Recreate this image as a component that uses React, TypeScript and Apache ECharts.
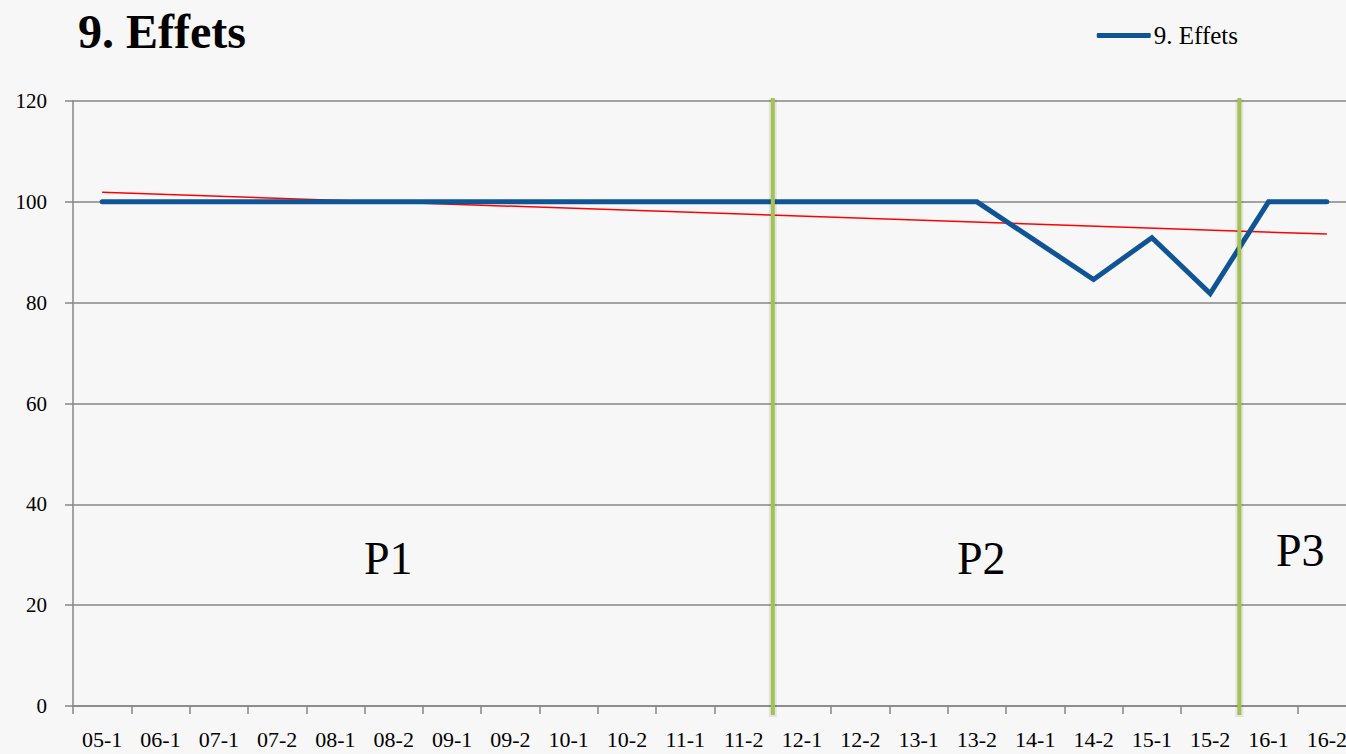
import React, { useEffect, useRef } from "react";
import * as echarts from "echarts";

const categories = ["05-1","06-1","07-1","07-2","08-1","08-2","09-1","09-2","10-1","10-2","11-1","11-2","12-1","12-2","13-1","13-2","14-1","14-2","15-1","15-2","16-1","16-2"];
const effets = [100,100,100,100,100,100,100,100,100,100,100,100,100,100,100,100,92.3,84.6,92.9,81.8,100,100];
const trendEnds = [101.9, 93.6];
const periodBounds = [11.5, 19.5];
const periodLabels = ["P1", "P2", "P3"];
const yTicks = { min: 0, max: 120, interval: 20 };

const FONT = "'Liberation Serif', 'DejaVu Serif', serif";

export default function App() {
  const ref = useRef<HTMLDivElement>(null);
  useEffect(() => {
    if (!ref.current) return;
    const chart = echarts.init(ref.current, null, { renderer: "svg" });
    const boundSeries: any[] = [];
    periodBounds.forEach((b, i) => {
      boundSeries.push({
        name: "boundShadow" + i,
        type: "line",
        xAxisIndex: 1,
        data: [
          [b, 120.4],
          [b, -2.2],
        ],
        symbol: "none",
        clip: false,
        silent: true,
        lineStyle: { color: "rgba(0,0,0,0.08)", width: 8 },
        z: 4,
      });
      boundSeries.push({
        name: "bound" + i,
        type: "line",
        xAxisIndex: 1,
        data: [
          [b, 120.6],
          [b, -1.8],
        ],
        symbol: "none",
        clip: false,
        silent: true,
        lineStyle: { color: "#a2c253", width: 4 },
        z: 5,
      });
    });
    chart.setOption({
      animation: false,
      backgroundColor: "#f7f7f7",
      title: {
        text: "9. Effets",
        left: 73,
        top: 2,
        textStyle: { fontFamily: FONT, fontSize: 48, fontWeight: "bold", color: "#000" },
      },
      legend: {
        right: 103,
        top: 18,
        itemWidth: 54,
        itemHeight: 5,
        itemGap: 0,
        data: [{ name: "9. Effets", icon: "roundRect", itemStyle: { color: "#0f5596" } }],
        textStyle: { fontFamily: FONT, fontSize: 25, color: "#000", padding: [0, 0, 0, -2] },
      },
      grid: { left: 73, width: 1283, top: 101, bottom: 48, containLabel: false, outerBoundsMode: "none" },
      xAxis: [
        {
          type: "category",
          data: categories,
          boundaryGap: true,
          axisLine: { lineStyle: { color: "#868686", width: 1.5 } },
          axisTick: { show: true, length: 8, lineStyle: { color: "#868686", width: 1.5 } },
          axisLabel: { fontFamily: FONT, fontSize: 22, color: "#000", margin: 22, interval: 0 },
          splitLine: { show: false },
        },
        {
          type: "value",
          show: false,
          min: -0.5,
          max: categories.length - 0.5,
          splitLine: { show: false },
        },
      ],
      yAxis: {
        type: "value",
        min: yTicks.min,
        max: yTicks.max,
        interval: yTicks.interval,
        axisLine: { show: true, onZero: false, lineStyle: { color: "#868686", width: 1.5 } },
        axisTick: { show: true, length: 8, lineStyle: { color: "#868686", width: 1.5 } },
        axisLabel: { fontFamily: FONT, fontSize: 21, color: "#000", margin: 26 },
        splitLine: { show: true, lineStyle: { color: "#868686", width: 1.5 } },
      },
      series: [
        {
          name: "9. Effets",
          type: "line",
          data: effets,
          symbol: "none",
          lineStyle: { color: "#0f5596", width: 5, cap: "round", join: "miter" },
          itemStyle: { color: "#0f5596" },
          z: 3,
          clip: false,
        },
        {
          name: "trend",
          type: "line",
          data: [
            [categories[0], trendEnds[0]],
            [categories[categories.length - 1], trendEnds[1]],
          ],
          symbol: "none",
          lineStyle: { color: "#ff0000", width: 1.5 },
          z: 2,
        },
        ...boundSeries,
      ],
      graphic: [
        { type: "text", left: 364, top: 535, style: { text: periodLabels[0], fontFamily: FONT, fontSize: 46, fill: "#000" } },
        { type: "text", left: 957, top: 535, style: { text: periodLabels[1], fontFamily: FONT, fontSize: 46, fill: "#000" } },
        { type: "text", left: 1276, top: 527, style: { text: periodLabels[2], fontFamily: FONT, fontSize: 46, fill: "#000" } },
      ],
    });
    return () => chart.dispose();
  }, []);
  return (
    <div
      ref={ref}
      style={{ position: "fixed", left: 0, top: 0, width: 1346, height: 754 }}
    />
  );
}
